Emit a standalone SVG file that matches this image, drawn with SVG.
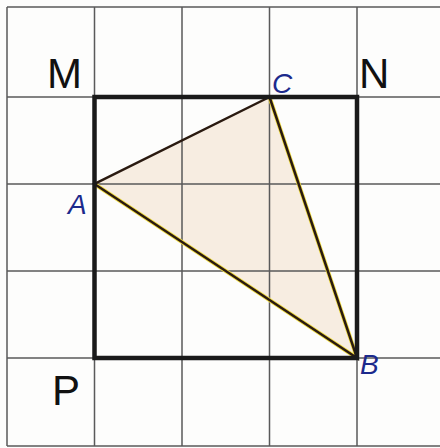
<svg xmlns="http://www.w3.org/2000/svg" width="440" height="448" viewBox="0 0 440 448">
<style>
.g{stroke:#5a5a5a;stroke-width:1.5;fill:none}
.t{font-family:"Liberation Sans",Arial,sans-serif;font-size:42px;fill:#111}
.b{font-family:"Liberation Sans",Arial,sans-serif;font-size:28px;font-style:italic;fill:#1c2a8c}
.e{stroke:#2a1a10;stroke-width:2.5;fill:none}
</style>
<rect width="440" height="448" fill="#fdfdfc"/>
<g id="triangle-fill">
<polygon points="269.5,97 94.5,184 357,358" fill="#f7ede1" stroke="none"/>
</g>
<g id="grid">
<path class="g" d="M7,7V446M94.5,7V446M182,7V446M269.5,7V446M357,7V446M7,7H440M7,97H440M7,184H440M7,271H440M7,358H440M7,446H440"/>
</g>
<g id="triangle">
<path d="M269.5,97L357,358M94.5,184L357,358" stroke="#f0dc40" stroke-width="4" fill="none"/>
<path class="e" d="M269.5,97L94.5,184L357,358L269.5,97"/>
</g>
<g id="square">
<rect x="94.5" y="97" width="262.5" height="261" fill="none" stroke="#1a1a1a" stroke-width="4.5"/>
</g>
<g id="labels">
<text class="t" x="47" y="88">M</text>
<text class="t" x="359" y="88">N</text>
<text class="t" x="52" y="405">P</text>
<text class="b" x="272" y="93">C</text>
<text class="b" x="68" y="214">A</text>
<text class="b" x="360" y="374">B</text>
</g>
</svg>
